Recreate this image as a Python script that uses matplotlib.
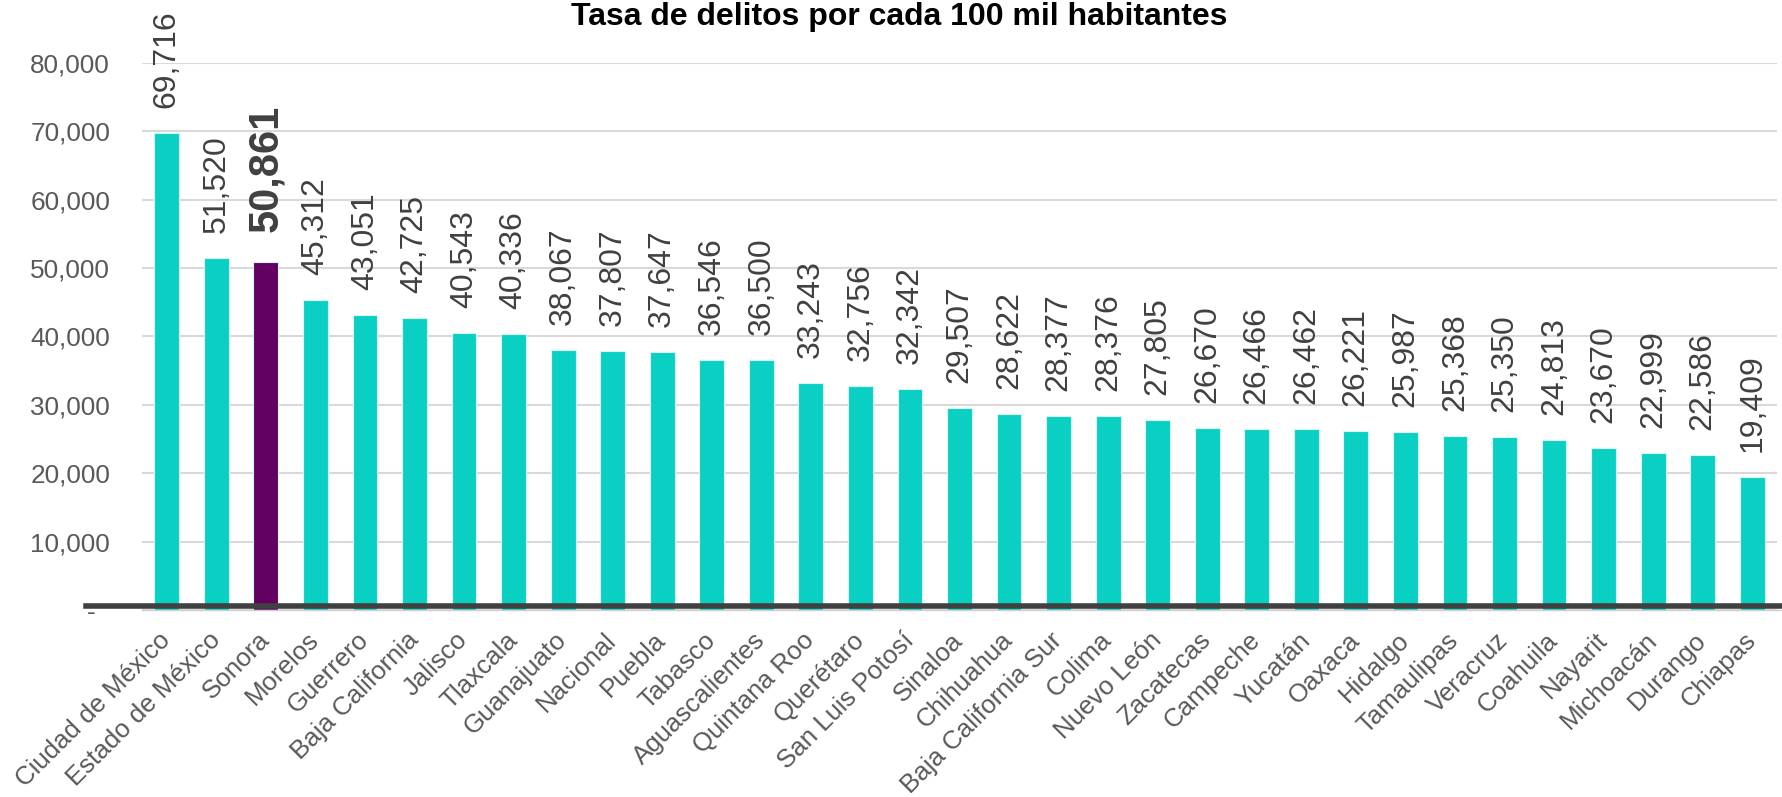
import matplotlib
matplotlib.use("Agg")
import matplotlib.pyplot as plt
from matplotlib.lines import Line2D

plt.rcParams['font.family'] = ['Liberation Sans', 'DejaVu Sans']

estados = ["Ciudad de México", "Estado de México", "Sonora", "Morelos", "Guerrero",
           "Baja California", "Jalisco", "Tlaxcala", "Guanajuato", "Nacional", "Puebla",
           "Tabasco", "Aguascalientes", "Quintana Roo", "Querétaro", "San Luis Potosí",
           "Sinaloa", "Chihuahua", "Baja California Sur", "Colima", "Nuevo León",
           "Zacatecas", "Campeche", "Yucatán", "Oaxaca", "Hidalgo", "Tamaulipas",
           "Veracruz", "Coahuila", "Nayarit", "Michoacán", "Durango", "Chiapas"]
tasas = [69716, 51520, 50861, 45312, 43051, 42725, 40543, 40336, 38067, 37807, 37647,
         36546, 36500, 33243, 32756, 32342, 29507, 28622, 28377, 28376, 27805, 26670,
         26466, 26462, 26221, 25987, 25368, 25350, 24813, 23670, 22999, 22586, 19409]
destacado = "Sonora"
yticks = [0, 10000, 20000, 30000, 40000, 50000, 60000, 70000, 80000]
ytick_labels = ["-  ", "10,000", "20,000", "30,000", "40,000", "50,000", "60,000",
                "70,000", "80,000"]
titulo = "Tasa de delitos por cada 100 mil habitantes"

TEAL = "#09D0C2"
PURPLE = "#620062"
W, H = 1783, 797

fig = plt.figure(figsize=(W / 100, H / 100), dpi=100)
ax = fig.add_axes([142 / W, 1 - 610 / H, (1777 - 142) / W, (610 - 62.7) / H])

x = list(range(len(estados)))
colors = [PURPLE if e == destacado else TEAL for e in estados]
ax.bar(x, tasas, width=0.5, color=colors, edgecolor="#d8f5f2", linewidth=0.8, zorder=3)

ax.set_xlim(-0.5, len(estados) - 0.5)
ax.set_ylim(0, 80000)
ax.set_yticks(yticks)
ax.set_yticklabels(ytick_labels)
ax.tick_params(axis='y', length=0, pad=23, labelsize=18.8, labelcolor="#595959")
ax.set_xticks(x)
ax.set_xticklabels(estados, rotation=45, ha='right', va='center', rotation_mode='anchor')
ax.tick_params(axis='x', length=0, pad=19, labelsize=18.6, labelcolor="#595959")

ax.grid(axis='y', color="#D9D9D9", linewidth=1.5, zorder=0)
ax.grid(axis='x', visible=False)
for s in ax.spines.values():
    s.set_visible(False)

for i, (e, v) in enumerate(zip(estados, tasas)):
    if e == destacado:
        ax.annotate(f"{v:,}", (i, v), xytext=(0, 21.5), textcoords='offset points',
                    rotation=90, ha='center', va='bottom', fontsize=30,
                    fontweight='bold', color="#404040")
    else:
        ax.annotate(f"{v:,}", (i, v), xytext=(0, 18), textcoords='offset points',
                    rotation=90, ha='center', va='bottom', fontsize=23,
                    color="#404040")

# thick baseline extending beyond axes
yb = 1 - 605.5 / H
fig.add_artist(Line2D([86 / W, 1.0], [yb, yb], color="#404040", linewidth=4))
fig.add_artist(Line2D([142 / W, 1.0], [1 - 609.5 / H, 1 - 609.5 / H], color="#D0D0D0", linewidth=1))

fig.text(899 / W, 1 - 17 / H, titulo, ha='center', va='center', fontsize=23,
         fontweight='bold', color="black")

fig.savefig("out.png", dpi=100)
